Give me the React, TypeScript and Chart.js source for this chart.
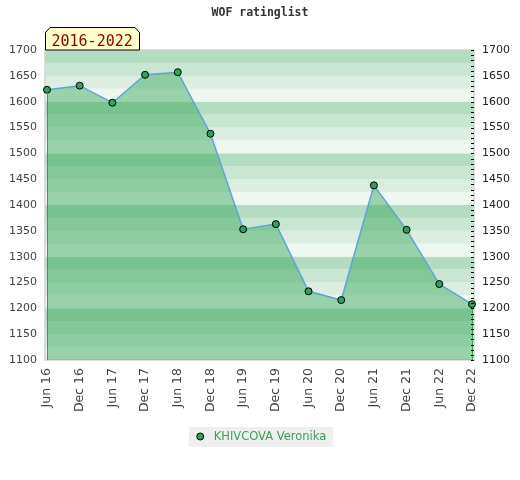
import React, { useEffect, useRef } from "react";
import { Chart, registerables } from "chart.js";

Chart.register(...registerables);

const TITLE = "WOF ratinglist";
const PERIOD = "2016-2022";
const PLAYER = "KHIVCOVA Veronika";
const LABELS = [
  "Jun 16", "Dec 16", "Jun 17", "Dec 17", "Jun 18", "Dec 18", "Jun 19",
  "Dec 19", "Jun 20", "Dec 20", "Jun 21", "Dec 21", "Jun 22", "Dec 22",
];
const RATINGS = [1623, 1631, 1598, 1652, 1657, 1538, 1353, 1363, 1233, 1216, 1438, 1352, 1247, 1208];
const Y_MIN = 1100;
const Y_MAX = 1700;
const Y_STEP = 50;
const BAND_STEP = 25;
const MINOR_STEP = 10;

const BAND_COLORS = ["#eff7f1", "#dbeee1", "#c8e6d1", "#b3dcc0"];
const POINT_COLOR = "#33a05a";
const LINE_COLOR = "#5fa3d8";
const FILL_COLOR = "rgba(48,162,85,0.45)";

const decorPlugin = {
  id: "decor",
  beforeDatasetsDraw(chart: any) {
    const { ctx, chartArea } = chart;
    const y = chart.scales.y;
    const l = chartArea.left - 2;
    const r = chartArea.right + 2;
    ctx.save();
    let i = 0;
    for (let v = Y_MIN; v < Y_MAX; v += BAND_STEP, i++) {
      const y0 = y.getPixelForValue(v);
      const y1 = y.getPixelForValue(v + BAND_STEP);
      ctx.fillStyle = BAND_COLORS[i % 4];
      ctx.fillRect(l, y1, r - l, y0 - y1);
    }
    ctx.strokeStyle = "#d4d4d4";
    ctx.lineWidth = 1.5;
    ctx.strokeRect(l, chartArea.top, r - l, chartArea.bottom - chartArea.top);
    ctx.restore();
  },
  afterDatasetsDraw(chart: any) {
    const { ctx, chartArea } = chart;
    const y = chart.scales.y;
    const meta = chart.getDatasetMeta(0);
    ctx.save();
    ctx.strokeStyle = "#2ea04f";
    ctx.lineWidth = 1;
    [meta.data[0], meta.data[meta.data.length - 1]].forEach((pt: any) => {
      ctx.beginPath();
      ctx.moveTo(Math.round(pt.x) + 0.5, pt.y + 3);
      ctx.lineTo(Math.round(pt.x) + 0.5, chartArea.bottom);
      ctx.stroke();
    });
    ctx.strokeStyle = "#000";
    const r = chartArea.right + 2;
    for (let v = Y_MIN; v <= Y_MAX; v += MINOR_STEP) {
      const py = Math.round(y.getPixelForValue(v)) + 0.5;
      ctx.beginPath();
      ctx.moveTo(r - 3, py);
      ctx.lineTo(r, py);
      ctx.stroke();
    }
    ctx.restore();
  },
  afterDraw(chart: any) {
    const { ctx, chartArea } = chart;
    ctx.save();
    ctx.font = "bold 11.5px 'DejaVu Sans Mono'";
    ctx.fillStyle = "#333";
    ctx.textAlign = "center";
    ctx.textBaseline = "middle";
    ctx.fillText(TITLE, 260, 13);
    const bx0 = chartArea.left - 2;
    const bx1 = 140;
    const by0 = 27.5;
    const by1 = chartArea.top;
    const c = 5;
    ctx.beginPath();
    ctx.moveTo(bx0 + 0.5, by1);
    ctx.lineTo(bx0 + 0.5, by0 + c);
    ctx.lineTo(bx0 + c, by0);
    ctx.lineTo(bx1 - c, by0);
    ctx.lineTo(bx1 - 0.5, by0 + c);
    ctx.lineTo(bx1 - 0.5, by1);
    ctx.closePath();
    ctx.fillStyle = "#ffffcc";
    ctx.fill();
    ctx.strokeStyle = "#000";
    ctx.lineWidth = 1;
    ctx.stroke();
    ctx.font = "15px 'DejaVu Sans Mono'";
    ctx.fillStyle = "#8b0000";
    ctx.textAlign = "left";
    ctx.textBaseline = "alphabetic";
    ctx.fillText(PERIOD, 51.5, 45.5);
    const label = chart.data.datasets[0].label;
    ctx.font = "11.5px 'DejaVu Sans'";
    const tw = ctx.measureText(label).width;
    const lw = tw + 32;
    const lx = 261 - lw / 2;
    ctx.fillStyle = "#efefef";
    ctx.fillRect(lx, 427, lw, 20);
    ctx.beginPath();
    ctx.arc(lx + 11.5, 436.5, 3.5, 0, Math.PI * 2);
    ctx.fillStyle = POINT_COLOR;
    ctx.fill();
    ctx.strokeStyle = "#000";
    ctx.stroke();
    ctx.fillStyle = "#3ca05a";
    ctx.textBaseline = "middle";
    ctx.fillText(label, lx + 25, 437);
    ctx.restore();
  },
};

const fmt = (v: any) => String(v);

export default function App() {
  const ref = useRef<HTMLCanvasElement>(null);
  useEffect(() => {
    document.body.style.margin = "0";
    const chart = new Chart(ref.current!, {
      type: "line",
      data: {
        labels: LABELS,
        datasets: [
          {
            label: PLAYER,
            data: RATINGS,
            borderColor: LINE_COLOR,
            borderWidth: 1.5,
            backgroundColor: FILL_COLOR,
            fill: "start",
            tension: 0,
            pointRadius: 3.5,
            pointBackgroundColor: POINT_COLOR,
            pointBorderColor: "#000",
            pointBorderWidth: 1,
          },
        ],
      },
      options: {
        responsive: false,
        animation: false,
        layout: { padding: { top: 50, left: 0, right: 0, bottom: 0 } },
        plugins: {
          legend: { display: false },
          title: { display: false },
          tooltip: { enabled: false },
        },
        scales: {
          x: {
            offset: false,
            grid: { display: false, drawTicks: false },
            border: { display: false },
            ticks: {
              autoSkip: false,
              minRotation: 90,
              maxRotation: 90,
              padding: 8,
              color: "#444",
              font: { family: "'DejaVu Sans'", size: 12.5 },
            },
            afterFit: (s: any) => {
              s.height = 120;
            },
          },
          y: {
            position: "left",
            min: Y_MIN,
            max: Y_MAX,
            grid: { display: false, drawTicks: false },
            border: { display: false },
            ticks: {
              stepSize: Y_STEP,
              padding: 10,
              color: "#444",
              callback: fmt,
              font: { family: "'DejaVu Sans'", size: 11 },
            },
            afterFit: (s: any) => {
              s.width = 47;
            },
          },
          y2: {
            position: "right",
            min: Y_MIN,
            max: Y_MAX,
            grid: { display: false, drawTicks: false },
            border: { display: false },
            ticks: {
              stepSize: Y_STEP,
              padding: 10,
              color: "#222",
              callback: fmt,
              font: { family: "'DejaVu Sans'", size: 11 },
            },
            afterFit: (s: any) => {
              s.width = 48;
            },
          },
        },
      },
      plugins: [decorPlugin],
    });
    return () => chart.destroy();
  }, []);
  return (
    <div style={{ position: "absolute", left: 0, top: 0, width: 520, height: 480, background: "#fff" }}>
      <canvas ref={ref} width={520} height={480} />
    </div>
  );
}
